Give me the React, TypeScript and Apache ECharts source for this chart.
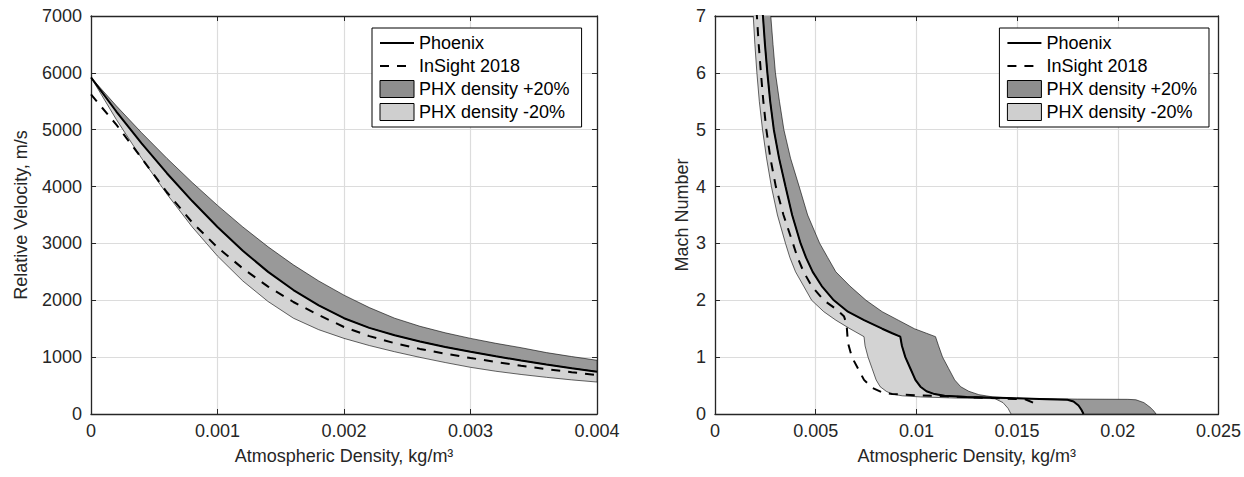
import { useEffect, useRef } from "react";
import * as echarts from "echarts";

// ---------- Left panel: Relative velocity vs atmospheric density ----------
const VEL_RHO = [0, 0.0002, 0.0004, 0.0006, 0.0008, 0.001, 0.0012, 0.0014, 0.0016, 0.0018, 0.002, 0.0022, 0.0024, 0.0026, 0.0028, 0.003, 0.0032, 0.0034, 0.0036, 0.0038, 0.004];
const VEL_PHOENIX = [5920, 5320, 4760, 4235, 3745, 3290, 2870, 2500, 2180, 1910, 1685, 1515, 1385, 1275, 1180, 1095, 1015, 940, 870, 805, 745];
const VEL_PLUS20 = [5920, 5420, 4947, 4498, 4072, 3669, 3290, 2940, 2623, 2340, 2090, 1872, 1685, 1543, 1428, 1330, 1243, 1166, 1080, 1010, 945];
const VEL_MINUS20 = [5920, 5180, 4498, 3868, 3290, 2778, 2340, 1978, 1685, 1483, 1330, 1204, 1095, 996, 905, 821, 752, 695, 645, 600, 562];
const VEL_INSIGHT = [5620, 5090, 4500, 3900, 3370, 2930, 2560, 2240, 1970, 1740, 1530, 1370, 1245, 1145, 1060, 985, 915, 850, 790, 735, 685];

// ---------- Right panel: Mach number vs atmospheric density ----------
const MACH_PHX_RHO = [0.00232, 0.00238, 0.00248, 0.0026, 0.00274, 0.00292, 0.00318, 0.0035, 0.00383, 0.00425, 0.00452, 0.00485, 0.0053, 0.0059, 0.0066, 0.0074, 0.0083, 0.0088, 0.0092, 0.00928, 0.00945, 0.0097, 0.00995, 0.0102, 0.0105, 0.0109, 0.0114, 0.0125, 0.0145, 0.0165, 0.0175, 0.0178, 0.01805, 0.0182, 0.0183];
const MACH_PHX_M = [7.4, 7, 6.5, 6, 5.5, 5, 4.5, 4, 3.5, 3, 2.75, 2.5, 2.25, 2, 1.8, 1.65, 1.5, 1.42, 1.36, 1.2, 1.0, 0.8, 0.6, 0.48, 0.4, 0.35, 0.32, 0.3, 0.28, 0.26, 0.25, 0.22, 0.15, 0.07, 0];

const MACH_P20_RHO = [0.0027, 0.00277, 0.00288, 0.003, 0.0032, 0.00342, 0.00375, 0.00418, 0.0046, 0.0052, 0.0056, 0.006, 0.0067, 0.0075, 0.0083, 0.0091, 0.0099, 0.0105, 0.01095, 0.0111, 0.0113, 0.0116, 0.0119, 0.0122, 0.0126, 0.0131, 0.0138, 0.0148, 0.016, 0.018, 0.0205, 0.0209, 0.0213, 0.0216, 0.0218, 0.0219];
const MACH_P20_M = [7.4, 7, 6.5, 6, 5.5, 5, 4.5, 4, 3.5, 3, 2.75, 2.5, 2.25, 2, 1.8, 1.65, 1.5, 1.42, 1.36, 1.2, 1.0, 0.8, 0.6, 0.48, 0.4, 0.34, 0.3, 0.28, 0.27, 0.262, 0.258, 0.25, 0.2, 0.12, 0.05, 0];

const MACH_M20_RHO = [0.00184, 0.0019, 0.00198, 0.00208, 0.0022, 0.00236, 0.00256, 0.0028, 0.0031, 0.0035, 0.00372, 0.004, 0.0044, 0.0048, 0.0054, 0.006, 0.0067, 0.0071, 0.0074, 0.00745, 0.0076, 0.0078, 0.008, 0.0082, 0.0085, 0.0088, 0.0093, 0.0102, 0.012, 0.0139, 0.0143, 0.01455, 0.0147];
const MACH_M20_M = [7.4, 7, 6.5, 6, 5.5, 5, 4.5, 4, 3.5, 3, 2.75, 2.5, 2.25, 2, 1.8, 1.65, 1.5, 1.42, 1.36, 1.2, 1.0, 0.8, 0.6, 0.48, 0.4, 0.35, 0.32, 0.3, 0.28, 0.27, 0.2, 0.1, 0];

const MACH_INS_RHO = [0.002, 0.00208, 0.00217, 0.00228, 0.0024, 0.00255, 0.00275, 0.00302, 0.0034, 0.00387, 0.0041, 0.0044, 0.0048, 0.0054, 0.006, 0.0064, 0.00652, 0.00655, 0.0066, 0.0068, 0.0071, 0.0074, 0.0078, 0.0083, 0.0088, 0.01, 0.0115, 0.013, 0.0145, 0.0154, 0.0158, 0.0161];
const MACH_INS_M = [7.4, 7, 6.5, 6, 5.5, 5, 4.5, 4, 3.5, 3, 2.75, 2.5, 2.25, 2, 1.85, 1.72, 1.6, 1.5, 1.25, 1.0, 0.8, 0.6, 0.46, 0.38, 0.35, 0.33, 0.31, 0.29, 0.27, 0.26, 0.2, 0.15];

const LEGEND_NAMES = ["Phoenix", "InSight 2018", "PHX density +20%", "PHX density -20%"];

const FONT = "'Liberation Sans', Arial, Helvetica, sans-serif";
const INK = "#262626";
const DARK_FILL = "#999999";
const LIGHT_FILL = "#d3d3d3";

const zip = (xs: number[], ys: number[]) => xs.map((x, i) => [x, ys[i]]);

function bandSeries(
  name: string,
  xAxisIndex: number,
  yAxisIndex: number,
  ax: number[], ay: number[],
  bx: number[], by: number[],
  fill: string
) {
  return {
    type: "custom",
    name,
    xAxisIndex,
    yAxisIndex,
    clip: true,
    silent: true,
    z: 1,
    itemStyle: { color: fill },
    data: [[ax[0], ay[0]]],
    renderItem: (_p: any, api: any) => {
      const pts: number[][] = [];
      for (let i = 0; i < ax.length; i++) pts.push(api.coord([ax[i], ay[i]]));
      for (let i = bx.length - 1; i >= 0; i--) pts.push(api.coord([bx[i], by[i]]));
      return {
        type: "polygon",
        shape: { points: pts },
        style: { fill, stroke: "#000", lineWidth: 0.6 },
      };
    },
  };
}

function lineSeries(name: string, xAxisIndex: number, yAxisIndex: number, data: number[][], dashed: boolean) {
  return {
    type: "line",
    name,
    xAxisIndex,
    yAxisIndex,
    data,
    symbol: "none",
    showSymbol: false,
    clip: true,
    z: 3,
    itemStyle: { color: "#000" },
    lineStyle: { color: "#000", width: 2, type: dashed ? [9, 8] : "solid" },
  };
}

function legendFor(pos: any) {
  return {
    ...pos,
    orient: "vertical",
    backgroundColor: "#fff",
    borderColor: "#000",
    borderWidth: 1,
    padding: [6, 12, 6, 7],
    itemWidth: 34,
    itemHeight: 17,
    itemGap: 5,
    selectedMode: false,
    textStyle: { fontSize: 18, color: "#000", fontFamily: FONT, lineHeight: 18 },
    data: [
      { name: LEGEND_NAMES[0], itemStyle: { opacity: 0 } },
      { name: LEGEND_NAMES[1], itemStyle: { opacity: 0 } },
      { name: LEGEND_NAMES[2], icon: "rect", itemStyle: { color: "#8e8e8e", borderColor: "#000", borderWidth: 1 } },
      { name: LEGEND_NAMES[3], icon: "rect", itemStyle: { color: "#cfcfcf", borderColor: "#000", borderWidth: 1 } },
    ],
  };
}

function xAxes(gridIndex: number, max: number, interval: number, name: string) {
  const common = {
    type: "value",
    gridIndex,
    min: 0,
    max,
    interval,
    axisLine: { show: true, onZero: false, lineStyle: { color: INK, width: 1.3 } },
    axisTick: { show: true, inside: true, length: 5, lineStyle: { color: INK, width: 1 } },
  };
  return [
    {
      ...common,
      position: "bottom",
      name,
      nameLocation: "middle",
      nameGap: 33,
      nameTextStyle: { fontSize: 18, color: INK, fontFamily: FONT },
      axisLabel: { show: true, fontSize: 18, color: INK, fontFamily: FONT, margin: 8 },
      splitLine: { show: true, lineStyle: { color: "#dcdcdc", width: 1.2 } },
    },
    {
      ...common,
      position: "top",
      axisLabel: { show: false },
      splitLine: { show: false },
    },
  ];
}

function yAxes(gridIndex: number, max: number, interval: number, name: string, nameGap: number) {
  const common = {
    type: "value",
    gridIndex,
    min: 0,
    max,
    interval,
    axisLine: { show: true, onZero: false, lineStyle: { color: INK, width: 1.3 } },
    axisTick: { show: true, inside: true, length: 5, lineStyle: { color: INK, width: 1 } },
  };
  return [
    {
      ...common,
      position: "left",
      name,
      nameLocation: "middle",
      nameGap,
      nameTextStyle: { fontSize: 18, color: INK, fontFamily: FONT },
      axisLabel: {
        show: true,
        fontSize: 18,
        color: INK,
        fontFamily: FONT,
        margin: 9,
        formatter: (v: number) => String(v),
      },
      splitLine: { show: true, lineStyle: { color: "#dcdcdc", width: 1.2 } },
    },
    {
      ...common,
      position: "right",
      axisLabel: { show: false },
      splitLine: { show: false },
    },
  ];
}

export default function App() {
  const ref = useRef<HTMLDivElement>(null);

  useEffect(() => {
    if (!ref.current) return;
    const chart = echarts.init(ref.current, undefined, { renderer: "svg" });

    const option: any = {
      animation: false,
      backgroundColor: "#fff",
      grid: [
        { left: 91, top: 16, width: 506, height: 398 },
        { left: 715, top: 16, width: 506, height: 398 },
      ],
      xAxis: [
        ...xAxes(0, 0.004, 0.001, "Atmospheric Density, kg/m³"),
        ...xAxes(1, 0.025, 0.005, "Atmospheric Density, kg/m³"),
      ],
      yAxis: [
        ...yAxes(0, 7000, 1000, "Relative Velocity, m/s", 61),
        ...yAxes(1, 7, 1, "Mach Number", 24),
      ],
      legend: [legendFor({ left: 372, top: 28 }), legendFor({ right: 35, top: 28 })],
      series: [
        // left panel
        bandSeries(LEGEND_NAMES[2], 0, 0, VEL_RHO, VEL_PLUS20, VEL_RHO, VEL_PHOENIX, DARK_FILL),
        bandSeries(LEGEND_NAMES[3], 0, 0, VEL_RHO, VEL_PHOENIX, VEL_RHO, VEL_MINUS20, LIGHT_FILL),
        lineSeries(LEGEND_NAMES[0], 0, 0, zip(VEL_RHO, VEL_PHOENIX), false),
        lineSeries(LEGEND_NAMES[1], 0, 0, zip(VEL_RHO, VEL_INSIGHT), true),
        // right panel
        bandSeries(LEGEND_NAMES[2], 2, 2, MACH_PHX_RHO, MACH_PHX_M, MACH_P20_RHO, MACH_P20_M, DARK_FILL),
        bandSeries(LEGEND_NAMES[3], 2, 2, MACH_M20_RHO, MACH_M20_M, MACH_PHX_RHO, MACH_PHX_M, LIGHT_FILL),
        lineSeries(LEGEND_NAMES[0], 2, 2, zip(MACH_PHX_RHO, MACH_PHX_M), false),
        lineSeries(LEGEND_NAMES[1], 2, 2, zip(MACH_INS_RHO, MACH_INS_M), true),
      ],
    };

    chart.setOption(option);
    return () => chart.dispose();
  }, []);

  return (
    <div
      ref={ref}
      style={{ position: "fixed", left: 0, top: 0, width: 1244, height: 477, background: "#fff" }}
    />
  );
}
